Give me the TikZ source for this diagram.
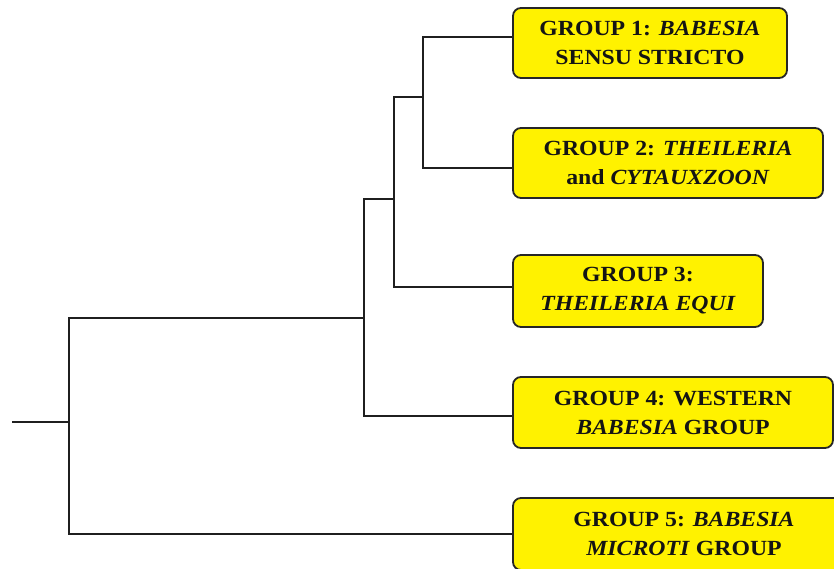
\documentclass[tikz,border=0pt]{standalone}
\usepackage{fontspec}
\setmainfont{Liberation Serif}[FakeStretch=1.1]
\begin{document}
\begin{tikzpicture}[x=1pt,y=-1pt,
  branch/.style={draw=black!88, line width=1.7pt, line join=miter},
  groupbox/.style={draw=black!85, line width=1.8pt, fill=yellow, rounded corners=8pt,
    inner sep=0pt, align=center, text=black!92,
    font=\bfseries\fontsize{21.6}{29}\selectfont}]
\useasboundingbox (0,0) rectangle (834,568);
\clip (0,0) rectangle (834,568);

% leaf boxes
\node[groupbox, minimum width=274pt, minimum height=70pt] (b1) at (650,43)
  {GROUP 1: \textit{BABESIA}\\SENSU STRICTO};
\node[groupbox, minimum width=310pt, minimum height=70pt] (b2) at (668,163)
  {GROUP 2: \textit{THEILERIA}\\and \textit{CYTAUXZOON}};
\node[groupbox, minimum width=250pt, minimum height=72pt] (b3) at (638,291)
  {GROUP 3:\\\textit{THEILERIA EQUI}};
\node[groupbox, minimum width=320pt, minimum height=71pt] (b4) at (673,412.5)
  {GROUP 4: WESTERN\\\textit{BABESIA} GROUP};
\node[groupbox, minimum width=342pt, minimum height=72pt] (b5) at (684,534)
  {GROUP 5: \textit{BABESIA}\\\textit{MICROTI} GROUP};

% internal nodes of the tree
\coordinate (stem) at (12,422);
\coordinate (n1) at (69,422);
\coordinate (n2) at (364,318);
\coordinate (n3) at (394,199);
\coordinate (n4) at (423,97);

% branches
\draw[branch] (stem) -- (n1);
\draw[branch] (n2) -| (n1) |- (b5.west);
\draw[branch] (n3) -| (n2) |- ([yshift=-3.5pt]b4.west);
\draw[branch] (n4) -| (n3) |- ([yshift=4pt]b3.west);
\draw[branch] ([yshift=6pt]b1.west) -| (n4) |- ([yshift=-5pt]b2.west);
\end{tikzpicture}
\end{document}
